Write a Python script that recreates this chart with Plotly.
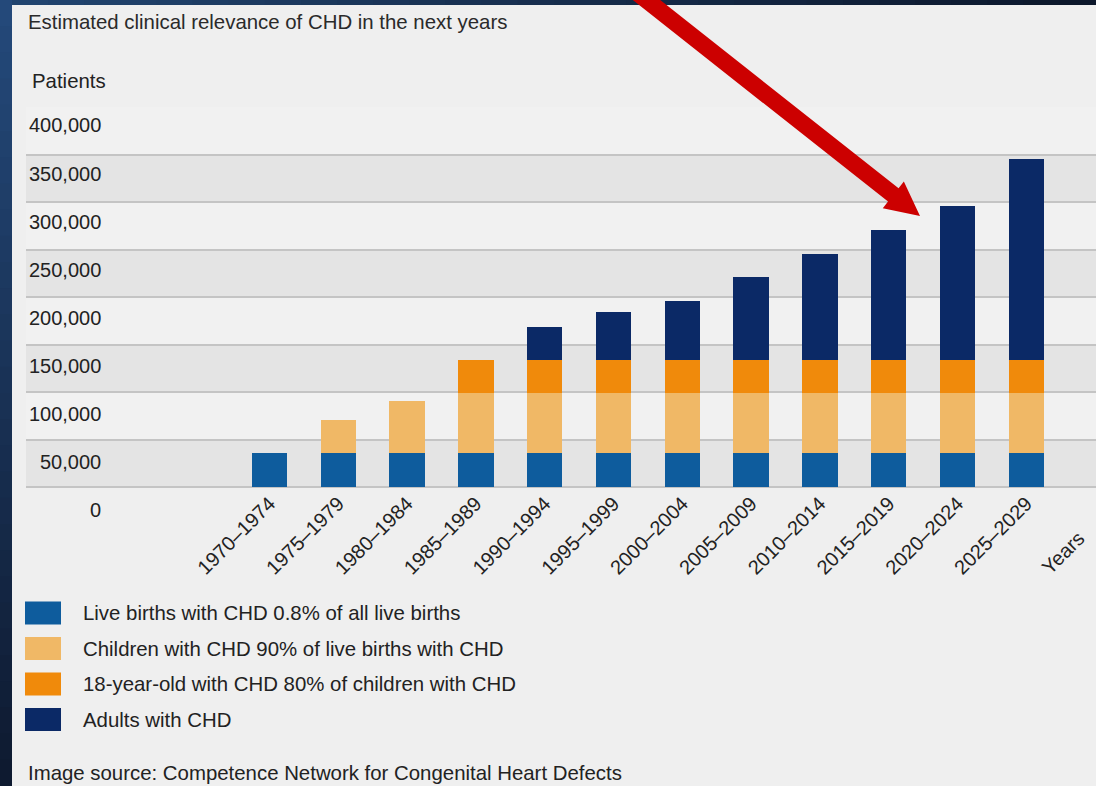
import math
import plotly.graph_objects as go

# Five-year periods on the x axis
categories = [
    "1970–1974", "1975–1979", "1980–1984", "1985–1989", "1990–1994", "1995–1999",
    "2000–2004", "2005–2009", "2010–2014", "2015–2019", "2020–2024", "2025–2029",
]

# Stacked segments (patients)
live_births = [35500, 35500, 35500, 35500, 35500, 35500, 35500, 35500, 35500, 35500, 35500, 35500]
children = [0, 34600, 54600, 63500, 63500, 63500, 63500, 63500, 63500, 63500, 63500, 63500]
eighteen = [0, 0, 0, 34300, 34300, 34300, 34300, 34300, 34300, 34300, 34300, 34300]
adults = [0, 0, 0, 0, 35100, 50500, 62500, 87300, 112300, 137500, 162800, 212300]

series_names = [
    "Live births with CHD 0.8% of all live births",
    "Children with CHD 90% of live births with CHD",
    "18-year-old with CHD 80% of children with CHD",
    "Adults with CHD",
]
series_values = [live_births, children, eighteen, adults]
series_colors = ["#0e5c9d", "#f0b866", "#f08a0b", "#0b2966"]

y_ticks = [0, 50000, 100000, 150000, 200000, 250000, 300000, 350000, 400000]
y_tick_labels = ["0", "50,000", "100,000", "150,000", "200,000", "250,000", "300,000", "350,000", "400,000"]

title_text = "Estimated clinical relevance of CHD in the next years"
y_title = "Patients"
x_title = "Years"
source_text = "Image source: Competence Network for Congenital Heart Defects"

FONT = "Liberation Sans, Arial, Helvetica, sans-serif"
TEXT = "#222222"
FS = 20.4      # body text
FS_TICK = 20   # axis tick labels

W, H = 1096, 786
L, R, T, B = 26, 0, 107, 299


def px_x(px):
    return (px - L) / (W - L - R)


def px_y(py):
    return (H - B - py) / (H - T - B)


def mix(c1, c2, t):
    a = [int(c1[i:i + 2], 16) for i in (1, 3, 5)]
    b = [int(c2[i:i + 2], 16) for i in (1, 3, 5)]
    return "#%02x%02x%02x" % tuple(round(a[k] + (b[k] - a[k]) * t) for k in range(3))


fig = go.Figure()
for name, vals, col in zip(series_names, series_values, series_colors):
    fig.add_trace(go.Bar(
        x=categories, y=vals, name=name,
        marker=dict(color=col, line=dict(width=0)),
        hoverinfo="x+y+name",
    ))

shapes = []

# Dark blue frame: vertical gradient on the left, horizontal along the top
n_steps = 30
for k in range(n_steps):
    y0 = H * k / n_steps
    y1 = H * (k + 1) / n_steps
    shapes.append(dict(type="rect", xref="paper", yref="paper", layer="below",
                       x0=px_x(0), x1=px_x(12.5), y0=px_y(y1 + 1), y1=px_y(y0),
                       line=dict(width=0), fillcolor=mix("#24497a", "#0e1a30", k / (n_steps - 1))))
for k in range(n_steps):
    x0 = 12 + (W - 12) * k / n_steps
    x1 = 12 + (W - 12) * (k + 1) / n_steps
    shapes.append(dict(type="rect", xref="paper", yref="paper", layer="below",
                       x0=px_x(x0), x1=px_x(x1 + 1), y0=px_y(5), y1=px_y(0),
                       line=dict(width=0), fillcolor=mix("#21446f", "#0c172b", k / (n_steps - 1))))

# Light panel
shapes.append(dict(type="rect", xref="paper", yref="paper", layer="below",
                   x0=px_x(12), x1=px_x(W + 2), y0=px_y(H + 2), y1=px_y(5),
                   line=dict(width=0), fillcolor="#efefef"))

# Alternating horizontal bands between gridlines
for i in range(len(y_ticks) - 1):
    shapes.append(dict(type="rect", xref="paper", yref="y", layer="below",
                       x0=0, x1=1, y0=y_ticks[i], y1=y_ticks[i + 1],
                       line=dict(width=0),
                       fillcolor="#e4e4e4" if i % 2 == 0 else "#f1f1f1"))

# Legend swatches
legend_rows = [613, 648.5, 684, 719.5]
for yc, col in zip(legend_rows, series_colors):
    shapes.append(dict(type="rect", xref="paper", yref="paper", layer="above",
                       x0=px_x(25), x1=px_x(61), y0=px_y(yc + 11.5), y1=px_y(yc - 11.5),
                       line=dict(width=0), fillcolor=col))

# Red pointer arrow
tip = (920.0, 216.0)
ux, uy = 273.5, 216.0
norm = math.hypot(ux, uy)
ux, uy = ux / norm, uy / norm
nx, ny = -uy, ux
head_len, head_half, shaft_half = 34.0, 17.0, 8.5
base = (tip[0] - head_len * ux, tip[1] - head_len * uy)
tail = (tip[0] - 420 * ux, tip[1] - 420 * uy)
pts = [
    (tail[0] + shaft_half * nx, tail[1] + shaft_half * ny),
    (base[0] + shaft_half * nx, base[1] + shaft_half * ny),
    (base[0] + head_half * nx, base[1] + head_half * ny),
    tip,
    (base[0] - head_half * nx, base[1] - head_half * ny),
    (base[0] - shaft_half * nx, base[1] - shaft_half * ny),
    (tail[0] - shaft_half * nx, tail[1] - shaft_half * ny),
]
path = "M " + " L ".join("%.5f,%.5f" % (px_x(px), px_y(py)) for px, py in pts) + " Z"
shapes.append(dict(type="path", xref="paper", yref="paper", layer="above", path=path,
                   fillcolor="#cc0000", line=dict(width=0)))


def note(text, x, y, xref="paper", yref="paper", size=FS, color=TEXT, **kw):
    d = dict(xref=xref, yref=yref, x=x, y=y, showarrow=False, text=text, borderpad=0,
             font=dict(family=FONT, size=size, color=color))
    d.update(kw)
    return d


annotations = []
# Y tick labels sit just below their gridlines
for v, lab in zip(y_ticks, y_tick_labels):
    annotations.append(note(lab, px_x(101.5), v, yref="y", size=FS_TICK,
                            yshift=-(18.4 + 4.9 * (1 - v / 400000)),
                            xanchor="right", yanchor="middle"))

annotations.append(note(title_text, px_x(26.5), px_y(22), color="#2a2a2a",
                        xanchor="left", yanchor="middle"))
annotations.append(note(y_title, px_x(30.5), px_y(81), xanchor="left", yanchor="middle"))
annotations.append(note(x_title, 11.53, px_y(553), xref="x", size=FS_TICK,
                        xanchor="center", yanchor="middle", textangle=-45))
for yc, name in zip(legend_rows, series_names):
    annotations.append(note(name, px_x(81.5), px_y(yc), xanchor="left", yanchor="middle"))
annotations.append(note(source_text, px_x(26.5), px_y(773), xanchor="left", yanchor="middle"))

fig.update_layout(
    width=W, height=H, autosize=False,
    margin=dict(l=L, r=R, t=T, b=B, pad=0),
    paper_bgcolor="#16294a", plot_bgcolor="rgba(0,0,0,0)",
    barmode="stack", bargap=0.484, showlegend=False,
    font=dict(family=FONT, size=FS, color=TEXT),
    shapes=shapes, annotations=annotations,
    xaxis=dict(type="category", range=[-3.539, 12.013], tickangle=-45,
               tickfont=dict(family=FONT, size=FS_TICK, color=TEXT),
               showgrid=False, showline=False, zeroline=False, ticks="", fixedrange=True),
    yaxis=dict(range=[0, 400000], tickmode="array", tickvals=y_ticks, showticklabels=False,
               showgrid=True, gridcolor="#c4c4c4", gridwidth=2,
               zeroline=True, zerolinecolor="#c4c4c4", zerolinewidth=2,
               showline=False, ticks="", fixedrange=True),
)

fig.write_html("out.html", config={"displayModeBar": False})
